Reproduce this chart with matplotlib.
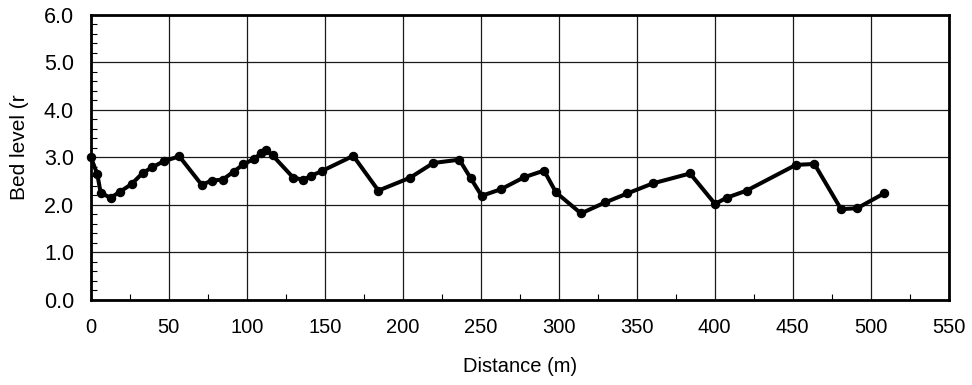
import matplotlib
matplotlib.use("Agg")
import matplotlib.pyplot as plt
from matplotlib.ticker import MultipleLocator, FormatStrFormatter

plt.rcParams['font.family'] = ['Liberation Sans', 'DejaVu Sans']

distance = [0.0, 4.2, 6.4, 12.8, 19.0, 26.3, 33.3, 39.4, 47.0, 56.8,
            71.2, 77.5, 84.6, 91.7, 97.8, 104.9, 109.0, 112.4, 116.6, 129.9,
            136.3, 141.3, 148.1, 168.3, 184.4, 204.7, 219.6, 236.3, 243.6, 250.6,
            263.1, 277.8, 290.6, 298.3, 314.3, 329.7, 344.0, 360.2, 384.2, 400.2,
            407.7, 420.5, 452.0, 463.9, 481.0, 491.4, 508.5]
bed_level = [3.01, 2.65, 2.25, 2.15, 2.28, 2.44, 2.67, 2.79, 2.92, 3.02,
             2.42, 2.51, 2.53, 2.70, 2.85, 2.97, 3.08, 3.15, 3.04, 2.57,
             2.53, 2.61, 2.71, 3.03, 2.30, 2.57, 2.88, 2.95, 2.56, 2.19,
             2.33, 2.58, 2.72, 2.26, 1.82, 2.05, 2.24, 2.45, 2.66, 2.02,
             2.15, 2.30, 2.84, 2.86, 1.91, 1.93, 2.24]

fig = plt.figure(figsize=(9.72, 3.85), dpi=100)
L, R, B, T = 90.7, 948.7, 300.0, 14.6
ax = fig.add_axes([L/972, 1-B/385, (R-L)/972, (B-T)/385])

ax.plot(distance, bed_level, color='black', lw=2.9, marker='o', ms=5.8,
        zorder=3, clip_on=False)

ax.set_xlim(0, 550)
ax.set_ylim(0, 6)
ax.xaxis.set_major_locator(MultipleLocator(50))
ax.xaxis.set_minor_locator(MultipleLocator(25))
ax.yaxis.set_major_locator(MultipleLocator(1))
ax.yaxis.set_minor_locator(MultipleLocator(0.2))
ax.yaxis.set_major_formatter(FormatStrFormatter('%.1f'))

ax.grid(True, which='major', color='#1a1a1a', lw=0.9)
ax.set_axisbelow(True)

for s in ax.spines.values():
    s.set_linewidth(2.0)
    s.set_color('black')

ax.tick_params(axis='both', which='both', direction='in', colors='black')
ax.tick_params(axis='y', which='major', length=0, labelsize=15.5, pad=12)
ax.tick_params(axis='y', which='minor', length=4.5, width=0.8, right=False)
ax.tick_params(axis='x', which='major', length=0, labelsize=14.5, pad=13)
ax.tick_params(axis='x', which='minor', length=4, width=0.8, top=False)

ax.set_xlabel('Distance (m)', fontsize=14.5)
ax.xaxis.set_label_coords((520.5-L)/(R-L), -(367-B)/(B-T))
ax.xaxis.label.set_va('center')
ax.set_ylabel('Bed level (r', fontsize=15)
ax.yaxis.set_label_coords(-(L-20)/(R-L), (B-147)/(B-T))
ax.yaxis.label.set_va('center')

fig.savefig('out.png', dpi=100)
